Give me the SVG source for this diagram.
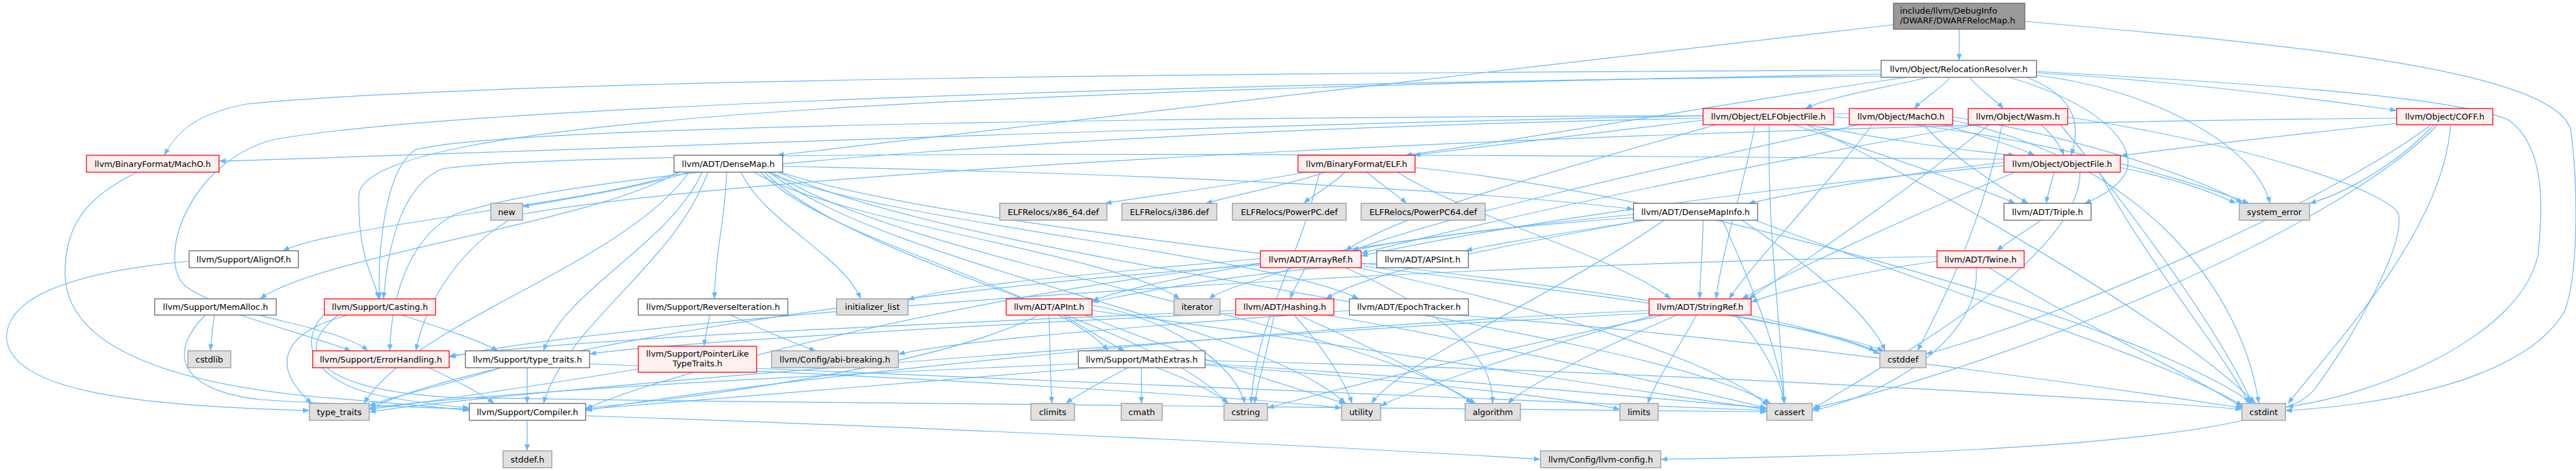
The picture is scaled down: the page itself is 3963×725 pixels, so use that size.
<svg xmlns="http://www.w3.org/2000/svg" width="3963" height="725" viewBox="0 0 3963 725">
<defs>
<marker id="ah" viewBox="0 0 10 8" refX="10" refY="4" markerWidth="10" markerHeight="8" markerUnits="userSpaceOnUse" orient="auto"><path d="M0,0 L10,4 L0,8 z" fill="#63b8ff"/></marker>
<style>
.e{fill:none;stroke:#63b8ff;stroke-width:1.2;marker-end:url(#ah)}
rect{stroke-width:1.3}
.w rect{fill:#fff;stroke:#666}
.r rect{fill:#fff0f0;stroke:#f00}
.g rect{fill:#e0e0e0;stroke:#999}
.root rect{fill:#999;stroke:#666}
text{font-family:"DejaVu Sans","Liberation Sans",sans-serif;font-size:12.9px;fill:#000;text-anchor:middle}
.root text{text-anchor:start}
</style>
</defs>
<rect x="0" y="0" width="3963" height="725" fill="#fff"/>
<g id="connectors">
<path class="e" d="M3014,45 C3014,62 3014,76 3014,93"/>
<path class="e" d="M2913,38 C2400,100 1550,195 1196,239"/>
<path class="e" d="M3115,33 C3550,70 3930,110 3955,200 C3968,300 3965,430 3945,480 C3880,590 3650,625 3516,632"/>
<path class="e" d="M2894,108 C2000,112 800,120 380,160 C300,175 270,205 253,239"/>
<path class="e" d="M2935,119 C2700,150 2350,215 2162,239"/>
<path class="e" d="M2966,119 C2900,135 2810,150 2778,167"/>
<path class="e" d="M3000,119 C2985,138 2960,150 2945,167"/>
<path class="e" d="M3030,119 C3045,138 3068,152 3082,167"/>
<path class="e" d="M3118,119 C3185,145 3205,185 3186,239"/>
<path class="e" d="M3091,119 C3230,160 3285,220 3272,262 C3262,285 3235,302 3207,313"/>
<path class="e" d="M3133,112 C3350,125 3560,152 3687,170"/>
<path class="e" d="M3133,116 C3300,135 3470,220 3492,313"/>
<path class="e" d="M3133,110 C3500,130 3780,150 3860,185 C3920,230 3910,330 3905,390 C3880,520 3650,610 3518,626"/>
<path class="e" d="M2894,114 C1500,140 560,180 552,300 C550,400 578,430 582,460"/>
<path class="e" d="M2894,117 C1800,128 700,165 420,215 C290,250 240,400 285,440 C350,490 520,500 566,540"/>
<path class="e" d="M211,265 C140,300 100,340 100,420 C100,530 250,590 500,612 C620,622 690,628 722,632"/>
<path class="e" d="M1204,256 C1700,265 2250,290 2513,322"/>
<path class="e" d="M1180,265 C1362,343 1954,392 2090,460"/>
<path class="e" d="M1046,265 C924,313 527,344 435,386"/>
<path class="e" d="M1089,265 C1038,407 874,496 836,621"/>
<path class="e" d="M1170,265 C1277,375 1625,444 1705,540"/>
<path class="e" d="M1043,265 C914,343 496,392 400,460"/>
<path class="e" d="M1118,265 C1115,343 1101,382 1099,460"/>
<path class="e" d="M1080,265 C1031,375 873,444 836,540"/>
<path class="e" d="M1188,265 C1403,407 2103,496 2265,621"/>
<path class="e" d="M1198,265 C1503,407 2495,496 2724,621"/>
<path class="e" d="M1200,265 C1540,375 2643,444 2898,540"/>
<path class="e" d="M1176,265 C1319,407 1782,496 1889,621"/>
<path class="e" d="M1140,265 C1177,343 1296,392 1324,460"/>
<path class="e" d="M1160,265 C1291,343 1717,392 1815,460"/>
<path class="e" d="M1060,265 C1000,285 880,305 804,318"/>
<path class="e" d="M1060,265 C960,407 635,496 560,621"/>
<path class="e" d="M1184,265 C1361,407 1937,496 2070,621"/>
<path class="e" d="M2010,265 C1900,285 1780,300 1700,313"/>
<path class="e" d="M2040,265 C1980,285 1900,300 1855,313"/>
<path class="e" d="M2069,265 C2050,285 2020,300 2006,313"/>
<path class="e" d="M2103,265 C2125,285 2150,300 2164,313"/>
<path class="e" d="M2150,265 C2250,330 2500,400 2570,460"/>
<path class="e" d="M2177,258 C2600,300 3300,500 3465,621"/>
<path class="e" d="M2030,265 C2000,400 1930,500 1925,621"/>
<path class="e" d="M2640,192 C2400,260 2150,330 2070,386"/>
<path class="e" d="M2700,192 C2680,300 2650,380 2640,460"/>
<path class="e" d="M2760,192 C2900,240 3050,290 3100,313"/>
<path class="e" d="M2620,185 C2450,205 2250,230 2175,239"/>
<path class="e" d="M2780,192 C2900,215 3020,232 3100,239"/>
<path class="e" d="M2620,178 C2000,180 800,190 640,230 C590,260 580,400 584,460"/>
<path class="e" d="M2620,182 C1700,200 900,260 700,330 C620,370 600,480 600,540"/>
<path class="e" d="M2722,192 C2718,350 2740,500 2745,621"/>
<path class="e" d="M2780,192 C3000,300 3350,500 3470,621"/>
<path class="e" d="M2821,180 C3100,200 3350,270 3460,313"/>
<path class="e" d="M2860,192 C2500,270 2200,340 2080,386"/>
<path class="e" d="M2880,192 C2800,300 2700,400 2660,460"/>
<path class="e" d="M2960,192 C3000,240 3080,290 3120,313"/>
<path class="e" d="M2845,175 C2000,185 800,235 337,248"/>
<path class="e" d="M2990,192 C3050,210 3100,225 3130,239"/>
<path class="e" d="M3004,185 C3300,250 3450,450 3475,621"/>
<path class="e" d="M3004,180 C3200,210 3400,280 3450,313"/>
<path class="e" d="M3040,192 C2600,270 2250,350 2094,390"/>
<path class="e" d="M3060,192 C2900,320 2750,420 2690,460"/>
<path class="e" d="M3181,180 C3500,230 3680,300 3690,330 C3700,380 3620,520 3560,600 C3500,680 3000,700 2555,707"/>
<path class="e" d="M3140,192 C3160,210 3170,225 3175,239"/>
<path class="e" d="M3080,192 C3050,350 2980,480 2950,540"/>
<path class="e" d="M3170,192 C3300,350 3420,520 3465,621"/>
<path class="e" d="M3083,255 C2600,300 2250,360 2094,394"/>
<path class="e" d="M3083,250 C2900,270 2750,300 2690,313"/>
<path class="e" d="M3100,265 C2900,350 2750,420 2680,460"/>
<path class="e" d="M3160,265 C3155,285 3150,300 3148,313"/>
<path class="e" d="M3083,245 C2400,240 900,225 680,260 C610,290 595,400 590,460"/>
<path class="e" d="M3200,265 C3200,400 2900,560 2788,630"/>
<path class="e" d="M3230,265 C3300,400 3420,540 3460,621"/>
<path class="e" d="M3262,258 C3350,275 3400,295 3440,313"/>
<path class="e" d="M3687,190 C3500,210 3350,228 3262,240"/>
<path class="e" d="M3687,182 C2600,190 1200,260 800,330 C700,380 650,480 640,540"/>
<path class="e" d="M3750,192 C3600,350 3100,560 2790,628"/>
<path class="e" d="M3740,192 C3600,300 3200,480 2963,545"/>
<path class="e" d="M3770,192 C3760,350 3600,520 3520,621"/>
<path class="e" d="M3745,192 C3680,260 3600,300 3553,313"/>
<path class="e" d="M2513,330 C2200,360 1800,420 1680,463"/>
<path class="e" d="M2530,339 C2400,360 2300,375 2255,386"/>
<path class="e" d="M2513,335 C2300,350 2150,370 2080,386"/>
<path class="e" d="M2530,339 C2300,380 2100,420 2040,460"/>
<path class="e" d="M2620,339 C2620,390 2615,420 2615,460"/>
<path class="e" d="M2650,339 C2700,450 2740,550 2745,621"/>
<path class="e" d="M2680,339 C2800,420 2880,490 2900,540"/>
<path class="e" d="M2700,339 C3000,450 3350,560 3450,625"/>
<path class="e" d="M2560,339 C2400,450 2150,560 2110,621"/>
<path class="e" d="M3140,339 C3110,360 3085,375 3072,386"/>
<path class="e" d="M291,402 C100,420 10,460 10,520 C15,600 200,625 476,632"/>
<path class="e" d="M2008,412 C2000,430 1990,445 1985,460"/>
<path class="e" d="M1939,405 C1500,450 1000,580 901,630"/>
<path class="e" d="M2070,412 C2200,470 2300,540 2296,621"/>
<path class="e" d="M2090,412 C2400,480 2650,560 2720,625"/>
<path class="e" d="M2094,405 C2500,450 2800,500 2892,545"/>
<path class="e" d="M1939,398 C1700,420 1450,440 1397,462"/>
<path class="e" d="M1990,412 C1940,430 1880,445 1860,460"/>
<path class="e" d="M1939,408 C1300,450 700,560 568,630"/>
<path class="e" d="M2118,405 C1900,420 1750,450 1680,465"/>
<path class="e" d="M2980,402 C2850,420 2750,445 2694,465"/>
<path class="e" d="M2980,395 C2000,410 900,500 691,550"/>
<path class="e" d="M3040,412 C3050,520 2900,610 2788,632"/>
<path class="e" d="M3060,412 C3200,500 3380,580 3450,628"/>
<path class="e" d="M316,485 C260,540 270,600 400,615 C550,625 680,628 722,630"/>
<path class="e" d="M370,485 C430,505 500,525 540,540"/>
<path class="e" d="M330,485 C327,505 325,520 324,540"/>
<path class="e" d="M500,483 C460,520 470,590 600,612 C660,622 700,626 722,628"/>
<path class="e" d="M618,485 C680,505 740,525 766,540"/>
<path class="e" d="M520,485 C450,540 480,600 700,612 C1500,625 2400,630 2718,634"/>
<path class="e" d="M535,485 C440,510 410,560 480,621"/>
<path class="e" d="M1124,485 C1170,505 1210,525 1255,540"/>
<path class="e" d="M1092,485 C1088,505 1085,518 1083,533"/>
<path class="e" d="M1598,485 C1450,560 1100,610 901,628"/>
<path class="e" d="M1635,485 C1670,505 1700,525 1730,540"/>
<path class="e" d="M1680,478 C2000,520 2500,600 2718,630"/>
<path class="e" d="M1614,485 C1615,550 1617,590 1618,621"/>
<path class="e" d="M1680,470 C1800,490 1900,560 1915,621"/>
<path class="e" d="M1670,485 C1800,540 2000,600 2070,621"/>
<path class="e" d="M1901,478 C1400,500 900,520 691,548"/>
<path class="e" d="M1901,482 C1500,500 1000,530 907,545"/>
<path class="e" d="M1998,485 C2100,530 2220,590 2270,621"/>
<path class="e" d="M2040,485 C2300,530 2600,600 2718,628"/>
<path class="e" d="M1960,485 C1950,540 1935,590 1930,621"/>
<path class="e" d="M1991,485 C2040,540 2070,590 2080,621"/>
<path class="e" d="M2076,478 C1800,500 1500,520 1382,545"/>
<path class="e" d="M2240,485 C2700,520 3200,590 3450,628"/>
<path class="e" d="M2537,478 C2000,500 1200,580 901,632"/>
<path class="e" d="M2580,485 C2450,540 2340,600 2320,621"/>
<path class="e" d="M2670,485 C2720,540 2740,590 2745,621"/>
<path class="e" d="M2690,485 C2780,505 2850,525 2885,540"/>
<path class="e" d="M2560,485 C2300,540 2050,600 1950,628"/>
<path class="e" d="M2610,485 C2580,540 2545,590 2535,621"/>
<path class="e" d="M2537,482 C1800,520 800,600 568,634"/>
<path class="e" d="M2545,485 C2350,540 2170,600 2124,625"/>
<path class="e" d="M660,566 C700,585 740,605 760,621"/>
<path class="e" d="M811,566 C811,585 811,602 811,621"/>
<path class="e" d="M770,566 C700,590 600,610 568,625"/>
<path class="e" d="M907,560 C1400,580 1900,610 2064,628"/>
<path class="e" d="M1164,567 C1800,590 2400,620 2718,632"/>
<path class="e" d="M982,568 C850,590 650,620 568,630"/>
<path class="e" d="M1680,566 C1400,590 1000,620 901,630"/>
<path class="e" d="M1854,560 C2200,580 2500,610 2718,628"/>
<path class="e" d="M1735,566 C1700,585 1660,605 1640,621"/>
<path class="e" d="M1756,566 C1756,585 1756,602 1756,621"/>
<path class="e" d="M1854,555 C2500,570 3200,610 3449,630"/>
<path class="e" d="M1780,566 C1830,585 1870,605 1890,621"/>
<path class="e" d="M1854,562 C2100,580 2400,610 2492,630"/>
<path class="e" d="M1659,560 C1300,575 800,600 568,628"/>
<path class="e" d="M901,640 C1500,660 2100,690 2370,707"/>
<path class="e" d="M811,647 C811,665 811,680 811,694"/>
</g>
<g id="n0" class="root"><rect x="2913" y="5" width="202" height="40"/><text x="2923" y="20.5">include/llvm/DebugInfo</text><text x="2923" y="35.5">/DWARF/DWARFRelocMap.h</text></g>
<g id="n1" class="w"><rect x="2894" y="93" width="239" height="26"/><text x="3013.5" y="110.6">llvm/Object/RelocationResolver.h</text></g>
<g id="n2" class="r"><rect x="133" y="239" width="204" height="26"/><text x="235" y="256.6">llvm/BinaryFormat/MachO.h</text></g>
<g id="n3" class="w"><rect x="1037" y="239" width="167" height="26"/><text x="1120.5" y="256.6">llvm/ADT/DenseMap.h</text></g>
<g id="n4" class="r"><rect x="1997" y="239" width="180" height="26"/><text x="2087" y="256.6">llvm/BinaryFormat/ELF.h</text></g>
<g id="n5" class="r"><rect x="2620" y="167" width="201" height="25"/><text x="2720.5" y="184">llvm/Object/ELFObjectFile.h</text></g>
<g id="n6" class="r"><rect x="2845" y="167" width="159" height="25"/><text x="2924.5" y="184">llvm/Object/MachO.h</text></g>
<g id="n7" class="r"><rect x="3028" y="167" width="153" height="25"/><text x="3104.5" y="184">llvm/Object/Wasm.h</text></g>
<g id="n8" class="r"><rect x="3083" y="239" width="179" height="26"/><text x="3172.5" y="256.6">llvm/Object/ObjectFile.h</text></g>
<g id="n9" class="r"><rect x="3687" y="167" width="148" height="25"/><text x="3761" y="184">llvm/Object/COFF.h</text></g>
<g id="n10" class="g"><rect x="755" y="313" width="49" height="26"/><text x="779.5" y="330.6">new</text></g>
<g id="n11" class="g"><rect x="1538" y="313" width="165" height="26"/><text x="1620.5" y="330.6">ELFRelocs/x86_64.def</text></g>
<g id="n12" class="g"><rect x="1726" y="313" width="146" height="26"/><text x="1799" y="330.6">ELFRelocs/i386.def</text></g>
<g id="n13" class="g"><rect x="1896" y="313" width="175" height="26"/><text x="1983.5" y="330.6">ELFRelocs/PowerPC.def</text></g>
<g id="n14" class="g"><rect x="2094" y="313" width="191" height="26"/><text x="2189.5" y="330.6">ELFRelocs/PowerPC64.def</text></g>
<g id="n15" class="w"><rect x="2513" y="313" width="191" height="26"/><text x="2608.5" y="330.6">llvm/ADT/DenseMapInfo.h</text></g>
<g id="n16" class="w"><rect x="3083" y="313" width="134" height="26"/><text x="3150" y="330.6">llvm/ADT/Triple.h</text></g>
<g id="n17" class="g"><rect x="3445" y="313" width="108" height="26"/><text x="3499" y="330.6">system_error</text></g>
<g id="n18" class="w"><rect x="291" y="386" width="168" height="26"/><text x="375" y="403.6">llvm/Support/AlignOf.h</text></g>
<g id="n19" class="r"><rect x="1939" y="386" width="155" height="26"/><text x="2016.5" y="403.6">llvm/ADT/ArrayRef.h</text></g>
<g id="n20" class="w"><rect x="2118" y="386" width="141" height="26"/><text x="2188.5" y="403.6">llvm/ADT/APSInt.h</text></g>
<g id="n21" class="r"><rect x="2980" y="386" width="134" height="26"/><text x="3047" y="403.6">llvm/ADT/Twine.h</text></g>
<g id="n22" class="w"><rect x="238" y="460" width="187" height="25"/><text x="331.5" y="477">llvm/Support/MemAlloc.h</text></g>
<g id="n23" class="r"><rect x="499" y="460" width="171" height="25"/><text x="584.5" y="477">llvm/Support/Casting.h</text></g>
<g id="n24" class="w"><rect x="982" y="460" width="230" height="25"/><text x="1097" y="477">llvm/Support/ReverseIteration.h</text></g>
<g id="n25" class="g"><rect x="1287" y="460" width="110" height="25"/><text x="1342" y="477">initializer_list</text></g>
<g id="n26" class="r"><rect x="1548" y="460" width="132" height="25"/><text x="1614" y="477">llvm/ADT/APInt.h</text></g>
<g id="n27" class="g"><rect x="1806" y="460" width="71" height="25"/><text x="1841.5" y="477">iterator</text></g>
<g id="n28" class="r"><rect x="1901" y="460" width="151" height="25"/><text x="1976.5" y="477">llvm/ADT/Hashing.h</text></g>
<g id="n29" class="w"><rect x="2076" y="460" width="183" height="25"/><text x="2167.5" y="477">llvm/ADT/EpochTracker.h</text></g>
<g id="n30" class="r"><rect x="2537" y="460" width="157" height="25"/><text x="2615.5" y="477">llvm/ADT/StringRef.h</text></g>
<g id="n31" class="g"><rect x="289" y="540" width="66" height="26"/><text x="322" y="557.6">cstdlib</text></g>
<g id="n32" class="r"><rect x="481" y="540" width="210" height="26"/><text x="586" y="557.6">llvm/Support/ErrorHandling.h</text></g>
<g id="n33" class="w"><rect x="716" y="540" width="191" height="26"/><text x="811.5" y="557.6">llvm/Support/type_traits.h</text></g>
<g id="n34" class="r"><rect x="982" y="533" width="182" height="40"/><text x="1073" y="549">llvm/Support/PointerLike</text><text x="1073" y="564">TypeTraits.h</text></g>
<g id="n35" class="g"><rect x="1187" y="540" width="195" height="26"/><text x="1284.5" y="557.6">llvm/Config/abi-breaking.h</text></g>
<g id="n36" class="w"><rect x="1659" y="540" width="195" height="26"/><text x="1756.5" y="557.6">llvm/Support/MathExtras.h</text></g>
<g id="n37" class="g"><rect x="2892" y="540" width="71" height="26"/><text x="2927.5" y="557.6">cstddef</text></g>
<g id="n38" class="g"><rect x="476" y="621" width="92" height="26"/><text x="522" y="638.6">type_traits</text></g>
<g id="n39" class="w"><rect x="722" y="621" width="179" height="26"/><text x="811.5" y="638.6">llvm/Support/Compiler.h</text></g>
<g id="n40" class="g"><rect x="1586" y="621" width="67" height="26"/><text x="1619.5" y="638.6">climits</text></g>
<g id="n41" class="g"><rect x="1725" y="621" width="63" height="26"/><text x="1756.5" y="638.6">cmath</text></g>
<g id="n42" class="g"><rect x="1883" y="621" width="67" height="26"/><text x="1916.5" y="638.6">cstring</text></g>
<g id="n43" class="g"><rect x="2064" y="621" width="60" height="26"/><text x="2094" y="638.6">utility</text></g>
<g id="n44" class="g"><rect x="2254" y="621" width="85" height="26"/><text x="2296.5" y="638.6">algorithm</text></g>
<g id="n45" class="g"><rect x="2492" y="621" width="59" height="26"/><text x="2521.5" y="638.6">limits</text></g>
<g id="n46" class="g"><rect x="2718" y="621" width="70" height="26"/><text x="2753" y="638.6">cassert</text></g>
<g id="n47" class="g"><rect x="3449" y="621" width="67" height="26"/><text x="3482.5" y="638.6">cstdint</text></g>
<g id="n48" class="g"><rect x="774" y="694" width="75" height="26"/><text x="811.5" y="711.6">stddef.h</text></g>
<g id="n49" class="g"><rect x="2370" y="694" width="185" height="26"/><text x="2462.5" y="711.6">llvm/Config/llvm-config.h</text></g>
</svg>
